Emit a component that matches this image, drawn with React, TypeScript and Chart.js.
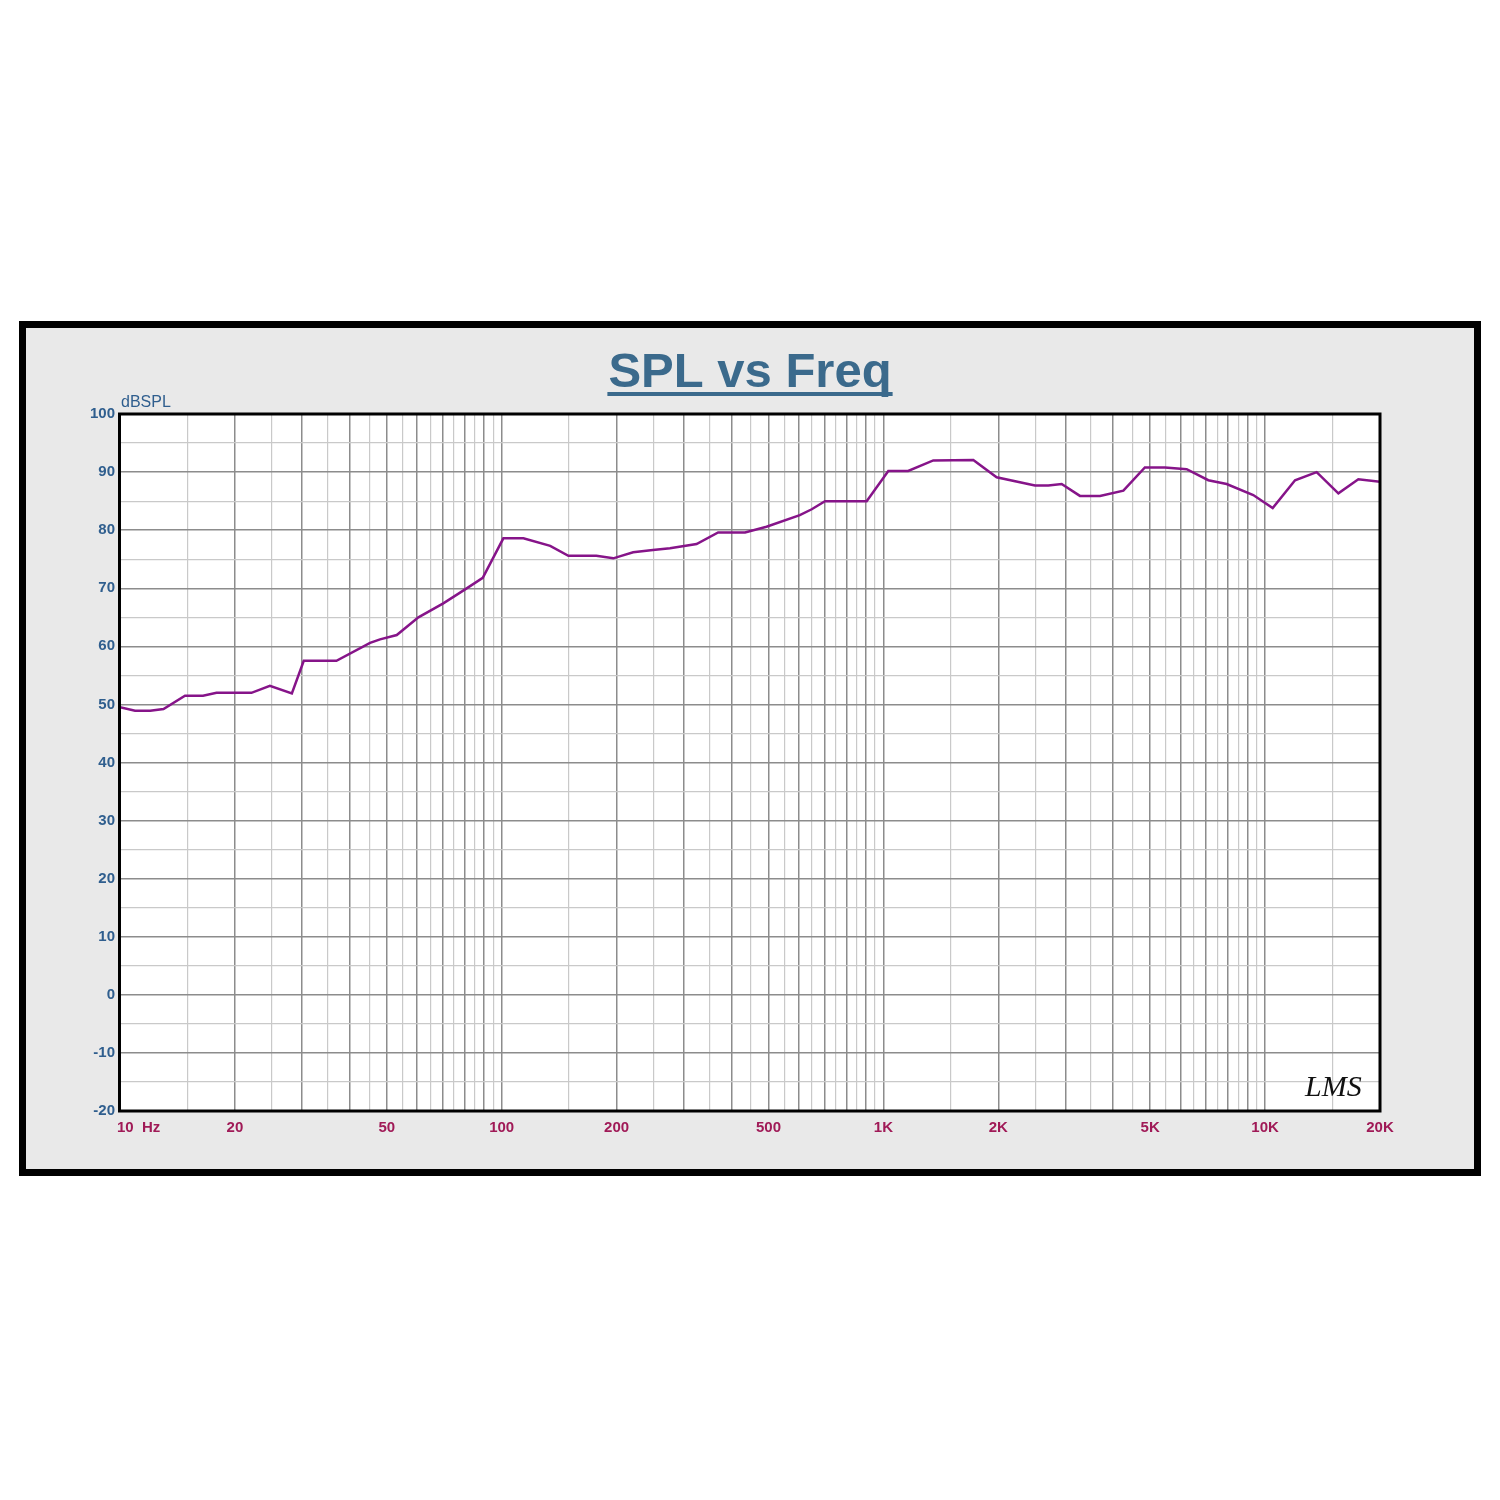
import { useEffect, useRef } from 'react';
import { Chart, registerables } from 'chart.js';

Chart.register(...registerables);

const freqHz = [
  10, 10.95, 12.0, 13.0, 14.8, 16.5, 17.9, 22.1, 24.7, 28.2, 30.3, 36.9, 45.2, 48.0, 53.1,
  60.5, 70.3, 80.2, 89.2, 101, 114, 134, 149.5, 177, 196, 221, 249, 276, 324, 369, 434,
  494, 604, 649, 703, 904, 1030, 1161, 1351, 1720, 1980, 2495, 2704, 2931, 3273, 3694,
  4253, 4842, 5466, 6230, 7100, 7930, 9310, 10470, 11980, 13650, 15560, 17550, 20000,
];
const splDb = [
  49.5, 48.9, 48.9, 49.2, 51.5, 51.5, 52.0, 52.0, 53.2, 51.9, 57.5, 57.5, 60.6, 61.2, 61.95,
  65.0, 67.4, 69.8, 71.8, 78.6, 78.6, 77.3, 75.6, 75.6, 75.15, 76.2, 76.6, 76.9, 77.6, 79.6, 79.6,
  80.6, 82.6, 83.6, 85.0, 85.0, 90.2, 90.2, 92.0, 92.1, 89.1, 87.7, 87.7, 87.95, 85.9, 85.9,
  86.8, 90.8, 90.8, 90.5, 88.6, 87.95, 86.05, 83.8, 88.6, 90.0, 86.35, 88.75, 88.35,
];

const xLabelValues = [10, 20, 50, 100, 200, 500, 1000, 2000, 5000, 10000, 20000];
const xLabelTexts = ['10  Hz', '20', '50', '100', '200', '500', '1K', '2K', '5K', '10K', '20K'];

const decades = [10, 100, 1000, 10000];
const gridMantissas = [1, 1.5, 2, 2.5, 3, 3.5, 4, 4.5, 5, 5.5, 6, 6.5, 7, 7.5, 8, 8.5, 9, 9.5];

const yMin = -20;
const yMax = 100;
const yStep = 5;

const titleText = 'SPL vs Freq';
const yUnitText = 'dBSPL';
const logoText = 'LMS';

function isMajorFreq(v: number) {
  const d = Math.pow(10, Math.floor(Math.log10(v) + 1e-9));
  const m = v / d;
  return Math.abs(m - Math.round(m)) < 1e-6;
}

export default function App() {
  const ref = useRef<HTMLCanvasElement | null>(null);

  useEffect(() => {
    if (!ref.current) return;
    const gridValues: number[] = [];
    decades.forEach((d) => gridMantissas.forEach((m) => {
      const v = d * m;
      if (v <= 20000 + 1e-6) gridValues.push(v);
    }));
    gridValues.push(20000);

    const framePlugin = {
      id: 'framePlugin',
      beforeDraw(chart: any) {
        const ctx = chart.ctx;
        const a = chart.chartArea;
        ctx.save();
        ctx.fillStyle = '#ffffff';
        ctx.fillRect(0, 0, chart.width, chart.height);
        ctx.fillStyle = '#000000';
        ctx.fillRect(19, 321, 1462, 855);
        ctx.fillStyle = '#e9e9e9';
        ctx.fillRect(26, 328, 1448, 841);
        ctx.fillStyle = '#ffffff';
        ctx.fillRect(a.left, a.top, a.right - a.left, a.bottom - a.top);
        ctx.restore();
      },
      afterDraw(chart: any) {
        const ctx = chart.ctx;
        const a = chart.chartArea;
        const xs = chart.scales.x;
        ctx.save();
        // plot border
        ctx.strokeStyle = '#000000';
        ctx.lineWidth = 3;
        ctx.strokeRect(a.left - 0.5, a.top, a.right - a.left + 0.5, a.bottom - a.top);
        // x labels
        ctx.font = 'bold 15px "Liberation Sans", Arial, sans-serif';
        ctx.fillStyle = '#a01a57';
        ctx.textBaseline = 'middle';
        xLabelValues.forEach((v, i) => {
          const px = xs.getPixelForValue(v);
          if (i === 0) {
            ctx.textAlign = 'left';
            ctx.fillText(xLabelTexts[i], px - 3, a.bottom + 17);
          } else {
            ctx.textAlign = 'center';
            ctx.fillText(xLabelTexts[i], px, a.bottom + 17);
          }
        });
        // unit label
        ctx.font = '16px "Liberation Sans", Arial, sans-serif';
        ctx.fillStyle = '#2f5e8e';
        ctx.textAlign = 'left';
        ctx.textBaseline = 'alphabetic';
        ctx.fillText(yUnitText, a.left + 1, a.top - 7);
        // title
        ctx.font = 'bold 49px "Liberation Sans", Arial, sans-serif';
        ctx.fillStyle = '#3b6a8c';
        ctx.textAlign = 'left';
        const tw = ctx.measureText(titleText).width;
        const tx = 750 - tw / 2;
        ctx.fillText(titleText, tx, 387);
        ctx.fillRect(tx - 1, 392, tw + 2, 4);
        // logo
        ctx.font = 'italic 30px "Liberation Serif", serif';
        ctx.fillStyle = '#111111';
        ctx.textAlign = 'left';
        ctx.fillText(logoText, 1305, 1096);
        ctx.restore();
      },
    };

    const chart = new Chart(ref.current, {
      type: 'line',
      data: {
        datasets: [
          {
            data: freqHz.map((f, i) => ({ x: f, y: splDb[i] })),
            borderColor: '#861489',
            borderWidth: 2.5,
            pointRadius: 0,
            tension: 0,
            fill: false,
          },
        ],
      },
      options: {
        animation: false,
        responsive: false,
        devicePixelRatio: 1,
        layout: { padding: { left: 60, top: 414, right: 120, bottom: 349 } },
        plugins: { legend: { display: false }, title: { display: false }, tooltip: { enabled: false } },
        scales: {
          x: {
            type: 'logarithmic',
            min: 10,
            max: 20000,
            afterBuildTicks: (scale: any) => {
              scale.ticks = gridValues.map((v) => ({ value: v }));
            },
            afterFit: (scale: any) => {
              scale.height = 40;
              scale.paddingLeft = 0;
              scale.paddingRight = 0;
            },
            ticks: { display: false, autoSkip: false },
            border: { display: false },
            grid: {
              drawTicks: false,
              color: (ctx: any) => (ctx.tick && isMajorFreq(ctx.tick.value) ? '#8c8c8c' : '#c9c9c9'),
              lineWidth: (ctx: any) => (ctx.tick && isMajorFreq(ctx.tick.value) ? 1.5 : 1.2),
            },
          },
          y: {
            type: 'linear',
            min: yMin,
            max: yMax,
            afterFit: (scale: any) => {
              scale.width = 60;
              scale.paddingTop = 0;
              scale.paddingBottom = 0;
            },
            ticks: {
              stepSize: yStep,
              autoSkip: false,
              padding: 5,
              color: '#2f5e8e',
              font: { family: '"Liberation Sans", Arial, sans-serif', size: 15, weight: 'bold' },
              callback: (v: any) => (Number(v) % 10 === 0 ? String(v) : ''),
            },
            border: { display: false },
            grid: {
              drawTicks: false,
              color: (ctx: any) => (ctx.tick && ctx.tick.value % 10 === 0 ? '#8c8c8c' : '#c9c9c9'),
              lineWidth: (ctx: any) => (ctx.tick && ctx.tick.value % 10 === 0 ? 1.5 : 1.2),
            },
          },
        },
      },
      plugins: [framePlugin],
    } as any);
    return () => chart.destroy();
  }, []);

  return (
    <div style={{ position: 'absolute', left: 0, top: 0, width: 1500, height: 1500, background: '#ffffff' }}>
      <canvas ref={ref} width={1500} height={1500} style={{ display: 'block', width: 1500, height: 1500 }} />
    </div>
  );
}
